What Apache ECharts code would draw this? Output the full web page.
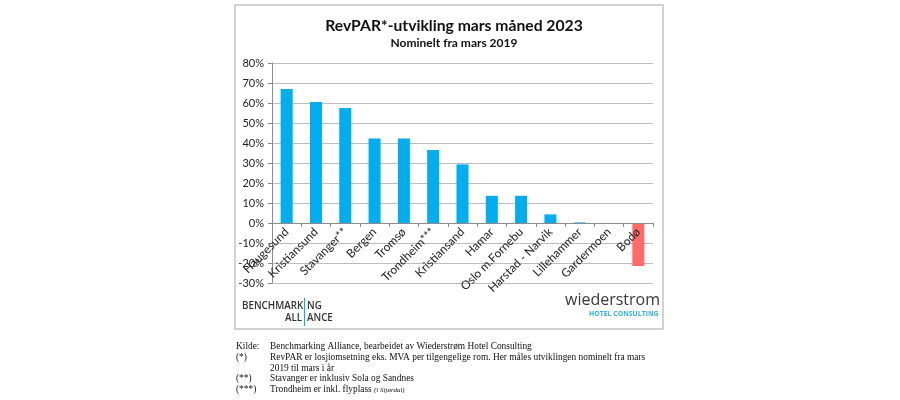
<!DOCTYPE html>
<html>
<head>
<meta charset="utf-8">
<script src="https://cdn.jsdelivr.net/npm/echarts@6/dist/echarts.min.js"></script>
<style>
  html, body { margin: 0; padding: 0; background: #fff; }
  #chart { width: 900px; height: 400px; }
</style>
</head>
<body>
<div id="chart"></div>
<script>
const cities = ['Haugesund', 'Kristiansund', 'Stavanger**', 'Bergen', 'Tromsø', 'Trondheim***', 'Kristiansand', 'Hamar', 'Oslo m.Fornebu', 'Harstad - Narvik', 'Lillehammer', 'Gardermoen', 'Bodø']
const revpar = [67, 60.5, 57.5, 42.3, 42.2, 36.5, 29.3, 13.6, 13.6, 4.3, 0.3, 0, -21.5]
const yTicks = [-30, 80, 10]

const footnotes = [
  ['Kilde:', 'Benchmarking Alliance, bearbeidet av Wiederstrøm Hotel Consulting'],
  ['(*)', 'RevPAR er losjiomsetning eks. MVA per tilgengelige rom. Her måles utviklingen nominelt fra mars'],
  ['', '2019 til mars i år'],
  ['(**)', 'Stavanger er inklusiv Sola og Sandnes'],
  ['(***)', 'Trondheim er inkl. flyplass']
]

const chart = echarts.init(document.getElementById('chart'))

// fotnoter under figuren
const noteFont = '9.4px "Liberation Serif"'
const noteGraphics = []
footnotes.forEach((row, i) => {
  const y = 347 + i * 10.8
  noteGraphics.push({
    type: 'text', left: 236, top: y - 5,
    style: { text: row[0], font: noteFont, fill: '#111' }
  })
  noteGraphics.push({
    type: 'text', left: 270, top: y - 5,
    style: { text: row[1], font: noteFont, fill: '#111' }
  })
})
noteGraphics.push({
  type: 'text', left: 374, top: 347 + 4 * 10.8 - 4,
  style: { text: '(i Stjørdal)', font: 'italic 7px "Liberation Serif"', fill: '#111' }
})

const option = {
  backgroundColor: '#fff',
  title: {
    text: 'RevPAR*-utvikling mars måned 2023',
    subtext: 'Nominelt fra mars 2019',
    left: 449,
    textAlign: 'center',
    top: 13,
    itemGap: 3,
    textStyle: { fontFamily: 'Lato', fontWeight: 'bold', fontSize: 15.7, color: '#111' },
    subtextStyle: { fontFamily: 'Lato', fontWeight: 'bold', fontSize: 12, color: '#111' }
  },
  grid: {
    left: 272,
    right: 247,
    top: 63,
    bottom: 117
  },
  xAxis: {
    type: 'category',
    data: cities,
    position: 'bottom',
    offset: -60,
    z: 5,
    axisLine: { onZero: false, lineStyle: { color: '#8c8c8c' } },
    axisTick: { show: true, length: 4, lineStyle: { color: '#8c8c8c' } },
    axisLabel: {
      interval: 0,
      rotate: 45,
      margin: 7,
      hideOverlap: false,
      fontFamily: 'Lato',
      fontSize: 11.8,
      color: '#222'
    }
  },
  yAxis: {
    type: 'value',
    min: yTicks[0],
    max: yTicks[1],
    interval: yTicks[2],
    axisLine: { show: true, lineStyle: { color: '#8c8c8c' } },
    axisTick: { show: true, length: 4, lineStyle: { color: '#8c8c8c' } },
    axisLabel: {
      formatter: '{value}%',
      fontFamily: 'Lato',
      fontSize: 11,
      color: '#222',
      margin: 8,
      hideOverlap: false,
      showMinLabel: true,
      showMaxLabel: true
    },
    splitLine: { lineStyle: { color: '#bdbdbd' } }
  },
  series: [
    {
      type: 'bar',
      barWidth: '41%',
      data: revpar.map((v, i) => ({
        value: v,
        itemStyle: { color: i === revpar.length - 1 ? '#FF6B6B' : '#00AEEF' }
      }))
    }
  ],
  graphic: [
    {
      type: 'rect', z: -1,
      shape: { x: 235, y: 5, width: 428, height: 324 },
      style: { fill: 'none', stroke: '#c4c4c4', lineWidth: 1.5 }
    },
    // Benchmarking Alliance logo
    {
      type: 'text', left: 242, top: 301,
      style: { text: 'BENCHMARK', font: '600 9.8px "Open Sans"', fill: '#333' }
    },
    {
      type: 'text', left: 307, top: 301,
      style: { text: 'NG', font: '600 9.8px "Open Sans"', fill: '#333' }
    },
    {
      type: 'text', left: 285, top: 313,
      style: { text: 'ALL', font: '600 9.8px "Open Sans"', fill: '#333' }
    },
    {
      type: 'text', left: 307, top: 313,
      style: { text: 'ANCE', font: '600 9.8px "Open Sans"', fill: '#333' }
    },
    {
      type: 'line',
      shape: { x1: 304.5, y1: 298, x2: 304.5, y2: 326 },
      style: { stroke: '#1fa7d8', lineWidth: 1.2 }
    },
    // Wiederstrom logo
    {
      type: 'text', left: 565, top: 292,
      style: { text: 'wiederstrom', font: '16px "Open Sans"', fill: '#3a3a3a' }
    },
    {
      type: 'text', left: 589, top: 311,
      style: { text: 'HOTEL CONSULTING', font: 'bold 6.9px "Open Sans"', fill: '#35b2e5' }
    }
  ].concat(noteGraphics)
}

chart.setOption(option)
</script>
</body>
</html>
